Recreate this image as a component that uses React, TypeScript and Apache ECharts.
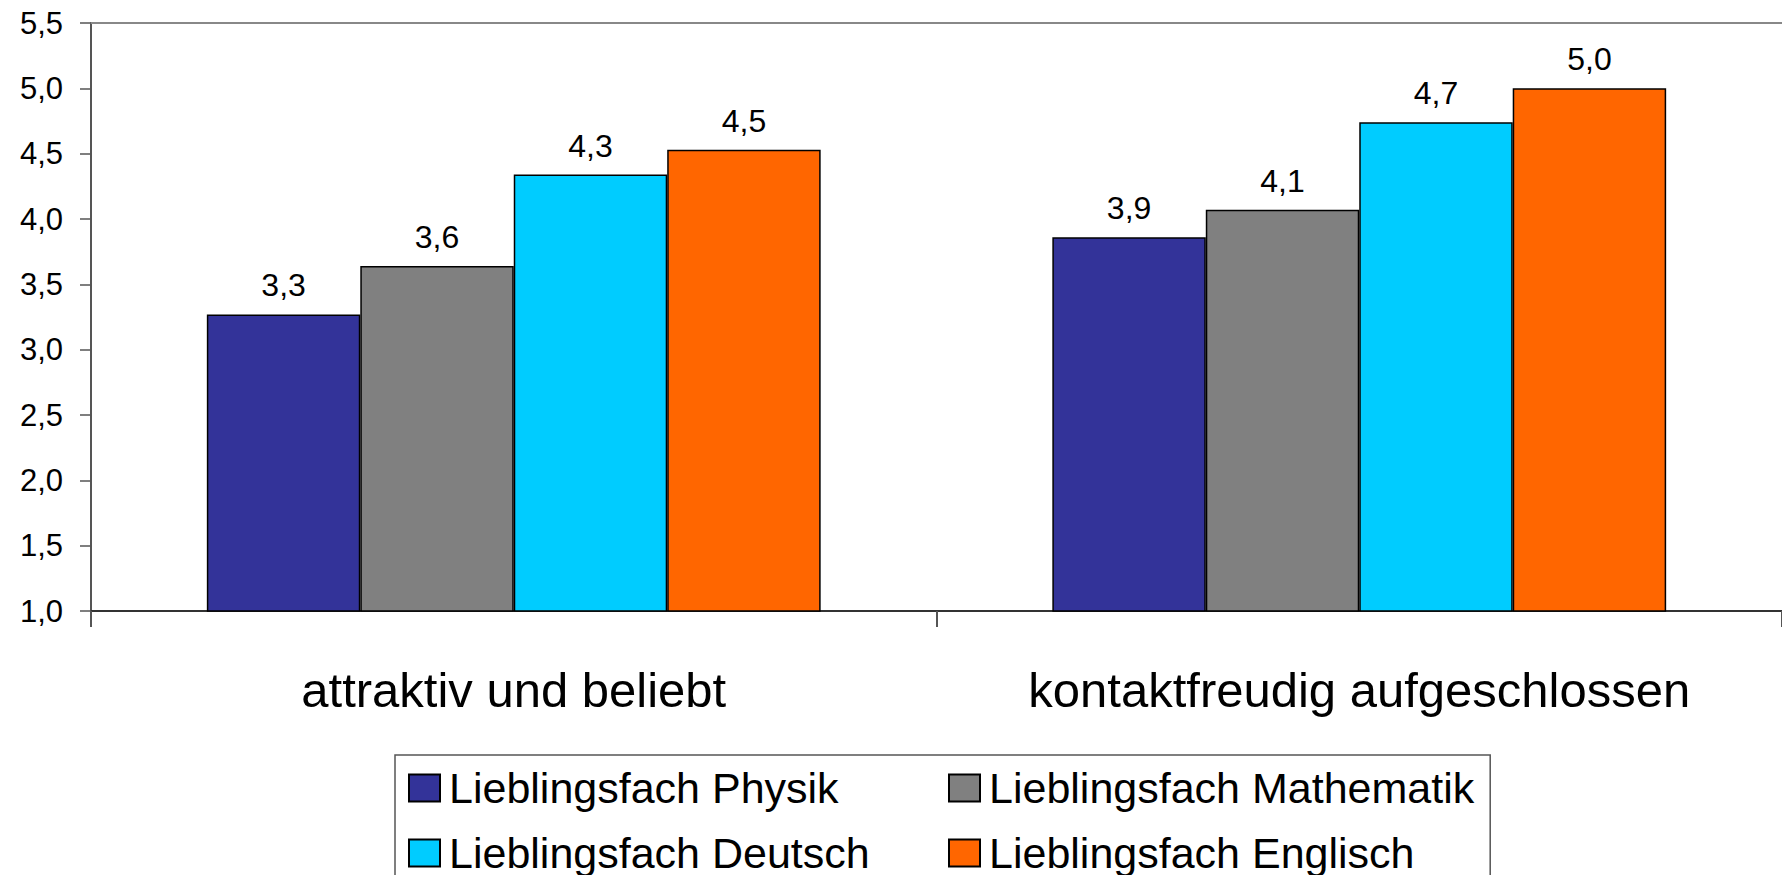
import React, { useEffect, useRef } from "react";
import * as echarts from "echarts";

const categories = ["attraktiv und beliebt", "kontaktfreudig aufgeschlossen"];
const seriesNames = [
  "Lieblingsfach Physik",
  "Lieblingsfach Mathematik",
  "Lieblingsfach Deutsch",
  "Lieblingsfach Englisch",
];
const physik = [3.27, 3.86];
const mathematik = [3.64, 4.07];
const deutsch = [4.34, 4.74];
const englisch = [4.53, 5.0];
const seriesColors = ["#333399", "#808080", "#00CCFF", "#FF6600"];
const yMin = 1;
const yMax = 5.5;
const yStep = 0.5;

const FONT = "'Liberation Sans', Arial, sans-serif";
const fmt = (v: number) => v.toFixed(1).replace(".", ",");

export default function App() {
  const ref = useRef<HTMLDivElement>(null);
  useEffect(() => {
    if (!ref.current) return;
    const chart = echarts.init(ref.current, undefined, { renderer: "svg" });
    const values = [physik, mathematik, deutsch, englisch];
    chart.setOption({
      animation: false,
      backgroundColor: "#ffffff",
      textStyle: { fontFamily: FONT },
      grid: { left: 91, right: 0, top: 23, bottom: 264, containLabel: false },
      legend: {
        left: 395,
        top: 755,
        orient: "horizontal",
        width: 1200,
        padding: [10, 16, 30, 13],
        itemGap: 19,
        itemWidth: 31,
        itemHeight: 27,
        icon: "rect",
        borderColor: "#555",
        borderWidth: 1.5,
        data: seriesNames,
        textStyle: {
          fontFamily: FONT,
          fontSize: 43,
          color: "#000",
          lineHeight: 46,
          width: 480,
          overflow: "none",
          padding: [0, 0, 0, 4],
        },
      },
      xAxis: [
        {
          type: "category",
          data: categories,
          axisLine: { show: true, lineStyle: { color: "#333", width: 2 } },
          axisTick: { show: true, length: 16, lineStyle: { color: "#555", width: 2 } },
          axisLabel: {
            fontFamily: FONT,
            fontSize: 49,
            color: "#000",
            margin: 54,
            interval: 0,
            hideOverlap: false,
          },
          splitLine: { show: false },
        },
        {
          type: "category",
          data: categories,
          position: "top",
          axisLine: { show: true, lineStyle: { color: "#888", width: 2 } },
          axisTick: { show: false },
          axisLabel: { show: false },
          splitLine: { show: false },
        },
      ],
      yAxis: {
        type: "value",
        min: yMin,
        max: yMax,
        interval: yStep,
        axisLine: { show: true, lineStyle: { color: "#555", width: 2 } },
        axisTick: { show: true, length: 11, lineStyle: { color: "#555", width: 1.5 } },
        splitLine: { show: false },
        axisLabel: {
          fontFamily: FONT,
          fontSize: 31,
          color: "#000",
          margin: 28,
          formatter: (v: number) => fmt(v),
        },
      },
      series: seriesNames.map((name, i) => ({
        name,
        type: "bar",
        xAxisIndex: 0,
        data: values[i],
        barGap: "0%",
        barCategoryGap: "27.4%",
        itemStyle: { color: seriesColors[i], borderColor: "#000", borderWidth: 1.5 },
        label: {
          show: true,
          position: "top",
          distance: 13,
          fontFamily: FONT,
          fontSize: 32,
          color: "#000",
          formatter: (p: any) => fmt(p.value),
        },
      })),
    });
    return () => chart.dispose();
  }, []);
  return (
    <div
      ref={ref}
      style={{ position: "fixed", left: 0, top: 0, width: 1782, height: 875 }}
    />
  );
}
